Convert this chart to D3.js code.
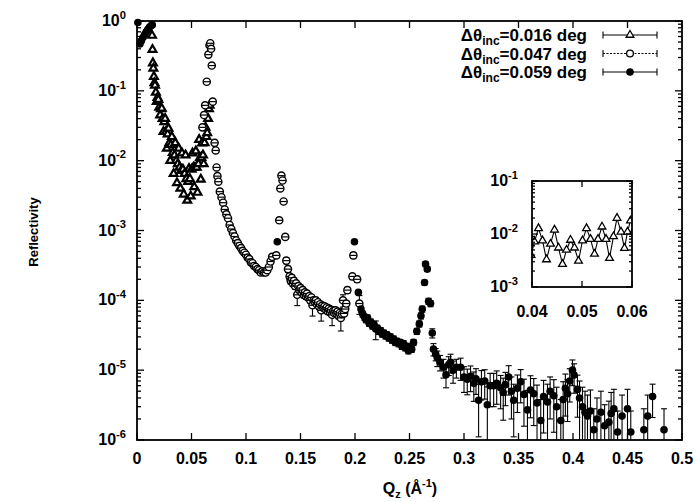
<!DOCTYPE html>
<html>
<head>
<meta charset="utf-8">
<script src="https://d3js.org/d3.v7.min.js"></script>
<style>
  body { margin: 0; background: #fff; }
  text { font-family: "Liberation Sans", Arial, sans-serif; font-weight: bold; fill: #000; }
</style>
</head>
<body>
<svg width="697" height="502"></svg>
<script>
// ---- data ----
// delta theta = 0.016 deg (triangles)
const qTri = [
  0.0138, 0.0142, 0.0146, 0.0150, 0.0155, 0.0160, 0.0165, 0.0173, 0.0181, 0.0188,
  0.0196, 0.0204, 0.0212, 0.0220, 0.0227, 0.0235, 0.0243, 0.0250, 0.0258, 0.0266,
  0.0274, 0.0281, 0.0289, 0.0297, 0.0305, 0.0312, 0.0320, 0.0328, 0.0336, 0.0343,
  0.0351, 0.0359, 0.0367, 0.0374, 0.0382, 0.0390, 0.0398, 0.0405, 0.0413, 0.0421,
  0.0429, 0.0437, 0.0445, 0.0453, 0.0461, 0.0469, 0.0477, 0.0485, 0.0493, 0.0501,
  0.0509, 0.0517, 0.0525, 0.0532, 0.0540, 0.0548, 0.0555, 0.0563, 0.0570, 0.0578,
  0.0585, 0.0591, 0.0597, 0.0605, 0.0612, 0.0620, 0.0628, 0.0636, 0.0644, 0.0652,
  0.0660, 0.0666
];
const rTri = [
  0.62, 0.39, 0.25, 0.21, 0.16, 0.13, 0.12, 0.095, 0.07, 0.08,
  0.075, 0.058, 0.045, 0.055, 0.056, 0.04, 0.026, 0.036, 0.04, 0.026,
  0.015, 0.024, 0.029, 0.018, 0.010, 0.017, 0.022, 0.013, 0.0065, 0.012,
  0.018, 0.010, 0.0048, 0.009, 0.015, 0.008, 0.004, 0.0072, 0.0128, 0.0075,
  0.0033, 0.0065, 0.012, 0.0055, 0.0027, 0.005, 0.0077, 0.0055, 0.0031, 0.0075,
  0.0128, 0.008, 0.0042, 0.008, 0.0137, 0.008, 0.0035, 0.009, 0.020, 0.011,
  0.0054, 0.011, 0.0178, 0.012, 0.009, 0.018, 0.030, 0.022, 0.025, 0.040,
  0.055, 0.062
];

// delta theta = 0.047 deg (open circles)
const qOpen = [
  0.0600, 0.0615, 0.0625, 0.0640, 0.0655, 0.0665, 0.0672, 0.0680, 0.0686, 0.0695,
  0.0712, 0.0722, 0.0730, 0.0738, 0.0746, 0.0760, 0.0775, 0.0790, 0.0805, 0.0820,
  0.0835, 0.0850, 0.0865, 0.0880, 0.0895, 0.0910, 0.0925, 0.0940, 0.0955, 0.0970,
  0.0985, 0.1000, 0.1015, 0.1030, 0.1045, 0.1060, 0.1075, 0.1090, 0.1105, 0.1120,
  0.1135, 0.1150, 0.1165, 0.1180, 0.1195, 0.1210, 0.1225, 0.1240, 0.1278, 0.1305,
  0.1315, 0.1325, 0.1335, 0.1345, 0.1360, 0.1370, 0.1385, 0.1400, 0.1410, 0.1420,
  0.1430, 0.1440, 0.1450, 0.1460, 0.1470, 0.1480, 0.1490, 0.1500, 0.1510, 0.1520,
  0.1530, 0.1540, 0.1550, 0.1560, 0.1570, 0.1580, 0.1590, 0.1600, 0.1610, 0.1620,
  0.1630, 0.1640, 0.1650, 0.1660, 0.1670, 0.1680, 0.1690, 0.1700, 0.1710, 0.1720,
  0.1730, 0.1740, 0.1750, 0.1760, 0.1770, 0.1780, 0.1790, 0.1800, 0.1810, 0.1820,
  0.1830, 0.1840, 0.1850, 0.1860, 0.1870, 0.1880, 0.1890, 0.1900, 0.1910, 0.1920,
  0.1930, 0.1976, 0.1985, 0.2020, 0.2040
];
const rOpen = [
  0.030, 0.045, 0.062, 0.135, 0.33, 0.45, 0.48, 0.40, 0.23, 0.07,
  0.018, 0.014, 0.008, 0.006, 0.005, 0.0036, 0.003, 0.0025, 0.002, 0.0017,
  0.0015, 0.0012, 0.00105, 0.00092, 0.00082, 0.00072, 0.00066, 0.0006, 0.00056, 0.00051,
  0.00048, 0.00045, 0.00041, 0.00039, 0.00035, 0.00034, 0.00031, 0.0003, 0.00028, 0.00027,
  0.00025, 0.00026, 0.00025, 0.00025, 0.00027, 0.0003, 0.00036, 0.00042, 0.00044, 0.0014,
  0.004, 0.0061, 0.0052, 0.0026, 0.00081, 0.00037, 0.00028, 0.00022, 0.00019, 0.00021,
  0.000175, 0.00019, 0.00016, 0.000175, 0.00012, 0.00016, 0.00014, 0.00015, 0.00013, 0.00014,
  0.00012, 0.00013, 0.000115, 0.000125, 0.00011, 0.000115, 0.0001, 0.00011, 0.000085, 0.0001,
  0.000095, 0.0001, 0.000088, 0.000094, 0.000082, 0.000088, 0.000072, 0.000084, 0.000078, 0.000082,
  0.000074, 0.000079, 0.00007, 0.000076, 0.000068, 0.000073, 0.000062, 0.00007, 0.000066, 0.000072,
  0.000064, 0.000069, 0.00006, 0.000066, 0.000056, 0.000064, 0.0001, 0.000065, 0.000075, 0.00009,
  0.00014, 0.00022, 0.00044, 0.0002, 0.00009
];
const eOpen = [
  0.05, 0.05, 0.05, 0.05, 0.05, 0.05, 0.05, 0.05, 0.05, 0.05,
  0.05, 0.05, 0.05, 0.05, 0.05, 0.05, 0.05, 0.05, 0.05, 0.05,
  0.05, 0.05, 0.05, 0.05, 0.05, 0.05, 0.05, 0.05, 0.05, 0.05,
  0.08, 0.08, 0.08, 0.08, 0.08, 0.08, 0.08, 0.08, 0.08, 0.08,
  0.08, 0.08, 0.08, 0.08, 0.08, 0.08, 0.08, 0.08, 0.08, 0.08,
  0.05, 0.05, 0.05, 0.05, 0.08, 0.1, 0.1, 0.1, 0.1, 0.1,
  0.1, 0.1, 0.1, 0.1, 0.3, 0.1, 0.1, 0.1, 0.1, 0.1,
  0.1, 0.1, 0.1, 0.1, 0.1, 0.1, 0.1, 0.1, 0.3, 0.1,
  0.1, 0.1, 0.1, 0.1, 0.1, 0.1, 0.3, 0.1, 0.1, 0.1,
  0.1, 0.1, 0.1, 0.1, 0.1, 0.1, 0.3, 0.1, 0.1, 0.1,
  0.1, 0.1, 0.1, 0.1, 0.35, 0.1, 0.2, 0.1, 0.1, 0.1,
  0.1, 0.1, 0.1, 0.1, 0.3
];

// delta theta = 0.059 deg (filled circles)
const qFill = [
  // plateau
  0.0008, 0.0027, 0.0040, 0.0055, 0.0070, 0.0085, 0.0100, 0.0115, 0.0130, 0.0140,
  // peaks
  0.1287, 0.1995, 0.2031,
  // valley
  0.2055, 0.2070, 0.2085, 0.2100, 0.2115, 0.2130, 0.2145, 0.2160, 0.2175, 0.2190,
  0.2205, 0.2220, 0.2235, 0.2250, 0.2265, 0.2280, 0.2295, 0.2310, 0.2325, 0.2340,
  0.2355, 0.2370, 0.2385, 0.2400, 0.2415, 0.2430, 0.2445, 0.2460, 0.2475, 0.2490,
  0.2505, 0.2520, 0.2537,
  // fourth peak
  0.2567, 0.2590, 0.2605, 0.2617, 0.2638, 0.2647, 0.2663, 0.2675, 0.2693, 0.2709,
  0.2720, 0.2740, 0.2755, 0.2780,
  // tail
  0.2812, 0.2835, 0.2860, 0.2877, 0.2900, 0.2930, 0.2969, 0.3000, 0.3030, 0.3060,
  0.3090, 0.3110, 0.3134, 0.3160, 0.3190, 0.3214, 0.3240, 0.3272, 0.3300, 0.3336,
  0.3360, 0.3380, 0.3410, 0.3435, 0.3456, 0.3490, 0.3520, 0.3550, 0.3582, 0.3610,
  0.3640, 0.3670, 0.3704, 0.3730, 0.3766, 0.3790, 0.3824, 0.3850, 0.3888, 0.3910,
  0.3930, 0.3950, 0.3970, 0.3995, 0.4010, 0.4041, 0.4060, 0.4087, 0.4110, 0.4133,
  0.4160, 0.4191, 0.4220, 0.4256, 0.4290, 0.4329, 0.4350, 0.4375, 0.4409, 0.4450,
  0.4500, 0.4530, 0.4650, 0.4685, 0.4730, 0.4835
];
const rFill = [
  0.95, 0.47, 0.52, 0.58, 0.64, 0.70, 0.76, 0.82, 0.86, 0.88,
  0.00069, 0.00069, 0.00013,
  7.5e-5, 6.4e-5, 5.8e-5, 5.3e-5, 5.6e-5, 4.7e-5, 4.9e-5, 4.3e-5, 4.5e-5, 3.9e-5,
  4.0e-5, 3.6e-5, 3.7e-5, 3.3e-5, 3.4e-5, 3.1e-5, 3.2e-5, 2.9e-5, 3.0e-5, 2.7e-5,
  2.8e-5, 2.5e-5, 2.6e-5, 2.4e-5, 2.5e-5, 2.2e-5, 2.4e-5, 2.1e-5, 2.2e-5, 1.9e-5,
  2.1e-5, 2.0e-5, 2.5e-5,
  3.6e-5, 4.6e-5, 6.0e-5, 7.5e-5, 1.8e-4, 3.3e-4, 2.8e-4, 9.7e-5, 9.0e-5, 3.4e-5,
  2.0e-5, 1.7e-5, 1.5e-5, 1.3e-5,
  1.1e-5, 8.6e-6, 1.2e-5, 1.3e-5, 1.0e-5, 1.1e-5, 1.1e-5, 8.0e-6, 7.4e-6, 8.2e-6,
  6.5e-6, 7.5e-6, 3.7e-6, 6.8e-6, 7.0e-6, 3.2e-6, 6.0e-6, 6.0e-6, 6.5e-6, 5.6e-6,
  4.8e-6, 6.2e-6, 8.0e-6, 5.0e-6, 3.7e-6, 5.5e-6, 6.8e-6, 4.5e-6, 2.7e-6, 5.2e-6,
  4.6e-6, 3.4e-6, 1.9e-6, 4.2e-6, 3.5e-6, 5.0e-6, 4.3e-6, 3.0e-6, 1.9e-6, 3.8e-6,
  5.5e-6, 4.6e-6, 7.0e-6, 1.0e-5, 8.5e-6, 5.3e-6, 4.0e-6, 3.0e-6, 2.5e-6, 2.2e-6,
  2.6e-6, 1.4e-6, 2.0e-6, 2.5e-6, 1.6e-6, 1.8e-6, 2.4e-6, 2.8e-6, 1.3e-6, 2.2e-6,
  2.8e-6, 1.3e-6, 1.4e-6, 2.2e-6, 4.2e-6, 1.4e-6
];
const eFill = [
  0.02, 0.02, 0.02, 0.02, 0.02, 0.02, 0.02, 0.02, 0.02, 0.02,
  0.05, 0.05, 0.05,
  0.1, 0.1, 0.1, 0.1, 0.1, 0.1, 0.1, 0.1, 0.1, 0.3,
  0.1, 0.1, 0.1, 0.1, 0.1, 0.1, 0.1, 0.1, 0.1, 0.1,
  0.1, 0.1, 0.1, 0.1, 0.1, 0.1, 0.1, 0.1, 0.1, 0.1,
  0.1, 0.1, 0.1,
  0.1, 0.1, 0.1, 0.1, 0.08, 0.08, 0.08, 0.1, 0.1, 0.15,
  0.2, 0.2, 0.25, 0.25,
  0.3, 0.35, 0.3, 0.3, 0.35, 0.3, 0.35, 0.4, 0.4, 0.4,
  0.45, 0.4, 0.7, 0.45, 0.45, 0.8, 0.5, 0.5, 0.5, 0.5,
  0.6, 0.5, 0.45, 0.6, 0.7, 0.55, 0.5, 0.65, 0.9, 0.6,
  0.65, 0.8, 1.0, 0.7, 0.8, 0.6, 0.7, 0.9, 1.0, 0.8,
  0.6, 0.6, 0.5, 0.4, 0.45, 0.6, 0.75, 0.9, 1.0, 1.0,
  1.0, 1.0, 1.0, 1.0, 1.0, 1.0, 1.0, 0.9, 1.0, 1.0,
  0.9, 1.0, 1.0, 1.0, 0.5, 1.0
];

const legendLabels = ['0.016', '0.047', '0.059'];
const xTicks = [0, 0.05, 0.1, 0.15, 0.2, 0.25, 0.3, 0.35, 0.4, 0.45, 0.5];
const yExps = [0, -1, -2, -3, -4, -5, -6];
const insetXTicks = [0.04, 0.05, 0.06];
const insetYExps = [-1, -2, -3];

// ---- layout ----
const svg = d3.select('svg');
const pL = 137, pR = 682, pT = 21, pB = 440;

const x = d3.scaleLinear().domain([0, 0.5]).range([pL, pR]);
const y = d3.scaleLog().domain([1e-6, 1]).range([pB, pT]);

svg.append('defs').append('clipPath').attr('id', 'clipMain')
  .append('rect').attr('x', pL).attr('y', pT).attr('width', pR - pL).attr('height', pB - pT);

//superscript label 10^n
function powLabel(t, e, size) {
  t.append('tspan').attr('font-size', size).text('10');
  t.append('tspan').attr('font-size', size * 0.7).attr('dy', -size * 0.45).text(e);
}

// ticks on all 4 sides, pointing inward
function drawAxes(g, xs, ys, xt, ye, major, minor) {
  const [x0, x1] = xs.range();
  const [y0, y1] = ys.range();
  const minorVals = ys.ticks().filter(v => !ye.some(e => Math.abs(Math.log10(v) - e) < 1e-6));
  xt.forEach(v => {
    g.append('line').attr('x1', xs(v)).attr('x2', xs(v)).attr('y1', y0).attr('y2', y0 - major);
    g.append('line').attr('x1', xs(v)).attr('x2', xs(v)).attr('y1', y1).attr('y2', y1 + major);
  });
  ye.forEach(e => {
    const yy = ys(Math.pow(10, e));
    g.append('line').attr('x1', x0).attr('x2', x0 + major).attr('y1', yy).attr('y2', yy);
    g.append('line').attr('x1', x1).attr('x2', x1 - major).attr('y1', yy).attr('y2', yy);
  });
  minorVals.forEach(v => {
    const yy = ys(v);
    g.append('line').attr('x1', x0).attr('x2', x0 + minor).attr('y1', yy).attr('y2', yy);
    g.append('line').attr('x1', x1).attr('x2', x1 - minor).attr('y1', yy).attr('y2', yy);
  });
  g.selectAll('line').attr('stroke', '#000').attr('stroke-width', 1.3);
  g.append('rect').attr('x', x0).attr('y', y1).attr('width', x1 - x0).attr('height', y0 - y1)
    .attr('fill', 'none').attr('stroke', '#000').attr('stroke-width', 1.8);
}

const axesG = svg.append('g');
drawAxes(axesG, x, y, xTicks, yExps, 7, 4);

// tick labels
svg.append('g').selectAll('text').data(xTicks).join('text')
  .attr('x', d => x(d)).attr('y', pB + 24)
  .attr('text-anchor', 'middle').attr('font-size', 16)
  .text(d => d3.format('~g')(d));

svg.append('g').selectAll('text').data(yExps).join('text')
  .attr('x', pL - 11).attr('y', d => y(Math.pow(10, d)) + 5)
  .attr('text-anchor', 'end')
  .each(function(d) { powLabel(d3.select(this), d, 16); });

// axis titles
const xt = svg.append('text').attr('x', 410).attr('y', 494).attr('text-anchor', 'middle').attr('font-size', 16);
xt.append('tspan').text('Q');
xt.append('tspan').attr('font-size', 11).attr('dy', 4).text('z');
xt.append('tspan').attr('dy', -4).text(' (Å');
xt.append('tspan').attr('font-size', 11).attr('dy', -7).text('-1');
xt.append('tspan').attr('dy', 7).text(')');

svg.append('text').attr('transform', 'translate(38,232) rotate(-90)')
  .attr('text-anchor', 'middle').attr('font-size', 13).text('Reflectivity');

// ---- markers ----
const triPath = d3.symbol().type(d3.symbolTriangle).size(26);

function errorBars(g, xs, ys, qs, rs, es, cap) {
  const yMin = ys.domain()[0];
  qs.forEach((q, i) => {
    const e = es[i] || 0;
    if (!e) return;
    const cx = xs(q);
    const hi = ys(rs[i] * (1 + e));
    const loV = rs[i] * (1 - e);
    const lo = loV > yMin ? ys(loV) : ys.range()[0] + 10;
    g.append('line').attr('x1', cx).attr('x2', cx).attr('y1', hi).attr('y2', lo);
    g.append('line').attr('x1', cx - cap).attr('x2', cx + cap).attr('y1', hi).attr('y2', hi);
    g.append('line').attr('x1', cx - cap).attr('x2', cx + cap).attr('y1', lo).attr('y2', lo);
  });
  g.selectAll('line').attr('stroke', '#000').attr('stroke-width', 1.1);
}

const errG = svg.append('g').attr('clip-path', 'url(#clipMain)');
errorBars(errG.append('g'), x, y, qOpen, rOpen, eOpen, 3);
errorBars(errG.append('g'), x, y, qFill, rFill, eFill, 3);

// triangles
svg.append('g').selectAll('path').data(qTri).join('path')
  .attr('transform', (d, i) => `translate(${x(d)},${y(rTri[i])})`)
  .attr('d', triPath)
  .attr('fill', '#fff').attr('stroke', '#000').attr('stroke-width', 2.2);

// open circles
const openG = svg.append('g').selectAll('g').data(qOpen).join('g')
  .attr('transform', (d, i) => `translate(${x(d)},${y(rOpen[i])})`);
openG.append('circle').attr('r', 3.6).attr('fill', '#fff').attr('stroke', '#000').attr('stroke-width', 1.4);
openG.append('line').attr('x1', -3.2).attr('x2', 3.2).attr('stroke', '#000').attr('stroke-width', 1.2);

// filled circles
svg.append('g').selectAll('circle').data(qFill).join('circle')
  .attr('cx', d => x(d)).attr('cy', (d, i) => y(rFill[i]))
  .attr('r', 3.8).attr('fill', '#000');

// ---- legend ----
const legend = svg.append('g');
legendLabels.forEach((lab, i) => {
  const base = 41 + i * 18.5;
  const t = legend.append('text').attr('x', 587).attr('y', base).attr('text-anchor', 'end').attr('font-size', 17);
  t.append('tspan').text('Δθ');
  t.append('tspan').attr('font-size', 12).attr('dy', 4).text('inc');
  t.append('tspan').attr('dy', -4).text('=' + lab + ' deg');

  const ly = base - 6;
  const s = legend.append('g').attr('stroke', '#000').attr('stroke-width', 1.1);
  s.append('line').attr('x1', 603).attr('x2', 657).attr('y1', ly).attr('y2', ly)
    .attr('stroke-dasharray', i === 1 ? '2,1.5' : null);
  s.append('line').attr('x1', 603).attr('x2', 603).attr('y1', ly - 3.5).attr('y2', ly + 3.5);
  s.append('line').attr('x1', 657).attr('x2', 657).attr('y1', ly - 3.5).attr('y2', ly + 3.5);
  if (i === 0) {
    legend.append('path').attr('transform', `translate(630,${ly})`).attr('d', triPath)
      .attr('fill', '#fff').attr('stroke', '#000').attr('stroke-width', 1.3);
  } else if (i === 1) {
    legend.append('circle').attr('cx', 630).attr('cy', ly).attr('r', 3.4)
      .attr('fill', '#fff').attr('stroke', '#000').attr('stroke-width', 1.3);
  } else {
    legend.append('circle').attr('cx', 630).attr('cy', ly).attr('r', 3.8).attr('fill', '#000');
  }
});

// ---- inset ----
const xi = d3.scaleLinear().domain([0.04, 0.06]).range([532, 632]);
const yi = d3.scaleLog().domain([1e-3, 1e-1]).range([287, 181]);

svg.append('defs').append('clipPath').attr('id', 'clipInset')
  .append('rect').attr('x', 532).attr('y', 181).attr('width', 100).attr('height', 106);

const inset = svg.append('g');
inset.append('rect').attr('x', 532).attr('y', 181).attr('width', 100).attr('height', 106).attr('fill', '#fff');

const insetPts = qTri.map((q, i) => [q, rTri[i]]).filter(p => p[0] >= 0.039 && p[0] <= 0.061);
const dataI = inset.append('g').attr('clip-path', 'url(#clipInset)');
dataI.append('path').datum(insetPts)
  .attr('d', d3.line().x(p => xi(p[0])).y(p => yi(p[1])))
  .attr('fill', 'none').attr('stroke', '#000').attr('stroke-width', 1.1);
dataI.selectAll('path.m').data(insetPts).join('path').attr('class', 'm')
  .attr('transform', p => `translate(${xi(p[0])},${yi(p[1])})`)
  .attr('d', triPath)
  .attr('fill', '#fff').attr('stroke', '#000').attr('stroke-width', 1.3);

drawAxes(inset.append('g'), xi, yi, insetXTicks, insetYExps, 6, 3);

inset.append('g').selectAll('text').data(insetXTicks).join('text')
  .attr('x', d => xi(d)).attr('y', 317)
  .attr('text-anchor', 'middle').attr('font-size', 16)
  .text(d => d3.format('.2f')(d));

inset.append('g').selectAll('text').data(insetYExps).join('text')
  .attr('x', 518).attr('y', d => yi(Math.pow(10, d)) + 5)
  .attr('text-anchor', 'end')
  .each(function(d) { powLabel(d3.select(this), d, 16); });
</script>
</body>
</html>
